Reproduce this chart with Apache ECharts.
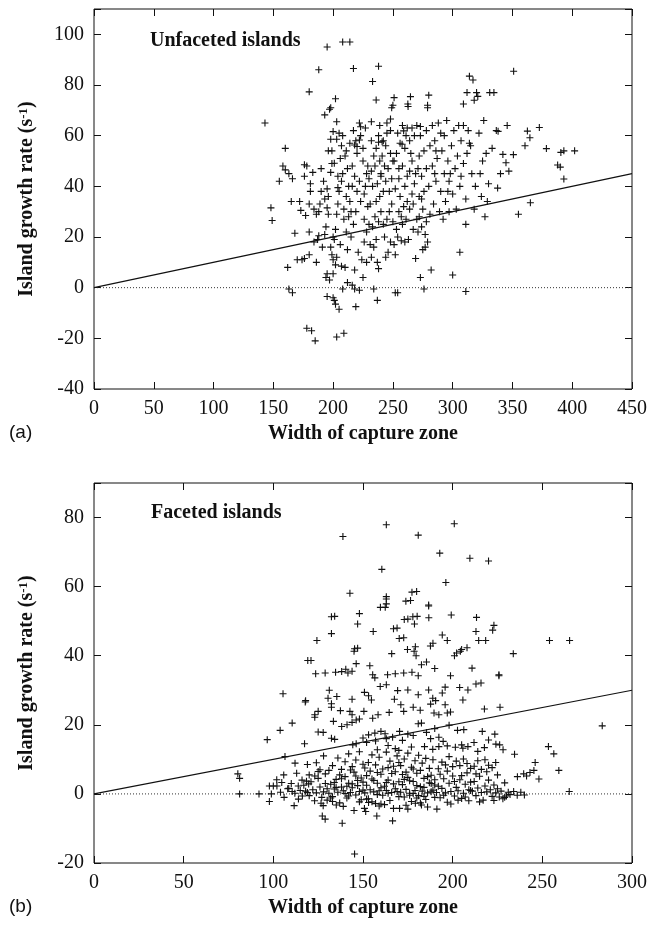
<!DOCTYPE html>
<html>
<head>
<meta charset="utf-8">
<script src="https://cdn.jsdelivr.net/npm/echarts@6/dist/echarts.min.js"></script>
<style>html,body{margin:0;padding:0;background:#fff;}#c{width:650px;height:928px;}</style>
</head>
<body>
<div id="c"></div>
<script>
// ---------- DATA ----------
const xTicksTop = [0, 50, 100, 150, 200, 250, 300, 350, 400, 450];
const yTicksTop = [-40, -20, 0, 20, 40, 60, 80, 100];
const xTicksBottom = [0, 50, 100, 150, 200, 250, 300];
const yTicksBottom = [-20, 0, 20, 40, 60, 80];

const panelLabels = ['(a)', '(b)'];
const panelTitles = ['Unfaceted islands', 'Faceted islands'];
const xAxisTitle = 'Width of capture zone';

const fitTop = [[0, 0], [450, 45]];
const zeroTop = [[0, 0], [450, 0]];
const fitBottom = [[0, 0], [300, 30]];
const zeroBottom = [[0, 0], [300, 0]];

const unfacetedPoints = [
[143,65],[148,31.5],[149,26.5],[155,42],[160,55],[160,46.5],[163,45],[166,43],[162,8],[163,-0.5],[166,-2],[168,21.5],[170,11],[165,34],[158,48],
[172,34],[173,30.5],[176,44],[177,28.5],[180,77.3],[178,-16],[181,41],[181,38],[180,33],[180,22],[182,-17],[184,31],[183,45.5],[185,-21],[188,86],[186,29],[187,19],[188,20.5],[189,33],[174,11],[176,11.5],[180,13],[184,18],[186,10],[178,48],[188,30],[190,47],[176,48.5],
[195,95],[193,68.2],[198,71],[197,70.4],[202,74.6],[203,65.5],[196,54],[199,54],[199,49],[198,45.5],[195,39],[196,36],[192,42],[190,38],[193,35],[195,31.5],[196,29],[193,21],[194,24],[191,16],[194,4],[195,5.5],[197,3],[195,-3.5],[200,-4],[201,-5],[202,-6.5],[205,-8.5],[203,-19.5],[200,5.5],[200,11],[199,13],[201,19],[202,23],[203,29],[204,33],[205,38],[204,44],[206,51],[207,56],[208,60],[205,61],[208,-0.5],[208,97],[200,20],[198,16],[203,12],[207,8.5],[209,-18],[210,8],[209,27],[208,45],[210,52],[200,61.6],[202,9],[206,17],[209,31],[204,39.5],[207,42],[201,49.1],[198,58.6],[203,58.6],
[214,97],[217,86.5],[212,2],[216,1],[218,7],[219,-7.5],[218,-0.5],[222,-1],[225,4],[212,15],[215,20],[217,25],[213,28],[219,30],[214,34],[220,38],[216,40],[222,42],[218,44],[212,47],[225,50],[220,53],[214,57],[223,60],[227,63],[221,14],[224,11],[226,18],[228,22],[211,36],[213,40],[226,27],[229,32],[223,34],[226,37],[228,45],[229,48],[225,55],[217,62],[219,58],[222,65],[228,10],[230,25],[211,22],[215,30],[227,40],[230,43],[216,48],[211,54],[223,63.5],[222,58.3],[218,56.3],[220,55.7],
[238,87.4],[233,81.4],[236,74.1],[234,-0.5],[237,-5],[238,7.5],[232,12],[234,16],[236,19],[233,24],[238,26],[235,28],[240,30],[231,33],[236,34],[239,36],[242,38],[233,40],[237,41],[244,42],[240,44],[232,46],[235,48],[239,50],[243,48],[246,47],[241,52],[236,55],[244,56],[232,58],[238,60],[245,61],[248,62],[249,71],[250,72],[251,75],[242,25],[245,27],[247,30],[249,33],[243,20],[246,14],[248,18],[244,12],[240,45],[234,52],[247,38],[249,43],[245,65],[232,65.5],[239,64],[242,58],[248,53],[250,50],[231,17],[237,10],[248,66.6],[241,57.6],[238,57.4],
[252,-2],[254,-2],[252,13],[251,17],[254,20],[257,18.5],[260,18],[253,23],[258,25],[261,27],[255,30],[264,31],[259,32],[262,34],[256,36],[266,37],[252,39],[260,40],[268,41],[255,43],[262,44],[264,46],[258,48],[251,50],[266,50],[253,53],[260,55],[256,57],[264,58],[268,60],[254,61],[262,63],[266,63],[258,64],[269,11.5],[267,23],[270,27],[263,19],[269,45],[257,28],[265,53],[250,26],[255,47],[261,60],[267,33],[270,64],[264.7,75.4],[262.5,72.5],[262.7,71.5],[259,61.9],[257.7,56.6],
[273,4],[276,-0.5],[282,7],[271,22],[274,24],[277,16],[279,18],[272,28],[275,31],[278,26],[281,29],[284,33],[272,36],[276,38],[280,40],[286,42],[274,44],[278,47],[283,48],[287,51],[272,52],[276,54],[281,56],[285,58],[273,60],[278,62],[283,64],[288,65],[279,71],[279,72],[280,76],[289,30],[290,38],[271,47],[285,45],[277,21],[275,15],[286,54],[290,61],[274,35],[273,63.6],
[300,5],[306,14],[311,-1.5],[292,27],[297,30],[303,31],[294,34],[300,37],[306,40],[297,42],[311,35],[293,45],[302,47],[309,49],[296,50],[304,52],[312,53],[299,56],[307,58],[315,56],[293,60],[301,62],[309,64],[295,66],[314,57],[316,45],[311,25],[318,31],[309,72.5],[314,83.5],[317,82],[312,77],[320,77],[318,74],[321,75.5],[305,64],[298,45],[291,54],[313,62],[307,44],[319,40],[296,38],
[327,28],[331,77],[334.5,77],[336.5,62],[338,61.7],[337.6,39.3],[342,52.6],[345.6,64],[344.6,49.3],[350.8,52.5],[351,85.4],[355,29],[325,50],[328,53],[323,45],[330,41],[333,55],[322,61],[326,66],[340,45],[347,46],[324,36],[329,34],
[362.5,61.8],[364.6,59.2],[360.5,56],[365,33.5],[372.5,63.2],[378.4,54.9],[387.8,48.4],[390,47.6],[390.5,53.4],[393,54],[393,42.9],[402,54]
];

const facetedPoints = [
[163,77.9],[200.9,78.2],[138.8,74.5],[180.8,74.9],[160.5,65],[192.8,69.7],[209.6,68.2],[220,67.4],[196.2,61.2],[142.7,58.1],[163,57.1],[163,56.4],[177.3,58.4],[173.9,55.8],[163,55],[159.7,54],[162.4,54],[186.6,54.7],[186.6,54.4],[132.4,51.3],[148,52.2],[177.8,51.3],[186.7,51],[199.2,51.8],[213.3,51.1],[173,50.5],[178.7,49.2],[147,49.2],[167,47.8],[223,48.8],[222.3,47.4],[132.4,46.4],[155.7,47],[194.2,46],[213,47],[197,44.4],[170.2,45],[124.3,44.4],[214.5,44.4],[218.4,44.4],[254,44.4],[265.2,44.4],[189,43.6],[187.6,42.8],[145.3,42],[174.8,41.8],[179.2,42.6],[205,41.8],[208,42.3],[134.2,51.4],[169,48],[172.7,45.2],[175,50.6],[180.2,51.4],[179.9,58.6],[176.5,56],[147,42.2],
[233.8,40.6],[166,40.6],[178.5,41.3],[179.6,40],[201,40],[202.2,40.8],[204.3,41.3],[145,41.3],[119.2,38.6],[146.2,37.7],[185.4,38.2],[182.6,37.4],[210.8,36.4],[140.4,36.1],[153.8,37.1],[123.6,34.8],[128.9,35],[134.7,35.2],[138.1,35.4],[141.6,35],[143.9,35.5],[155.4,34.5],[156.6,33.6],[163.7,34.5],[168,34.8],[172.7,35],[177.3,35.2],[180.8,34.2],[190,36.3],[198.8,34.2],[225.8,34.5],[225.8,34.2],[105.4,29],[131.2,30],[130.5,27.7],[135.4,28.2],[118,27],[117.8,26.6],[143.9,27.4],[150.8,29.4],[153.1,28.4],[154.7,27.2],[159.6,31.1],[163,31.6],[169.3,29.9],[167.5,27.4],[175,30.1],[180.8,28.7],[186.6,30.1],[188.9,27.7],[190.5,27],[195.8,30.9],[194.2,29.2],[203.9,30.8],[208.5,30.1],[215.8,32.1],[213,31.8],[205.7,27.2],[195.8,25.8],[198.8,23.7],[197,23.4],[123.1,22.9],[125,23.9],[123.1,22.2],[132.4,26.1],[137.4,24.1],[132.4,25.1],[133.5,21],[142.7,23.9],[143.9,22.9],[150.5,23.9],[155.4,21.9],[158.4,22.9],[164.6,23.6],[171.1,25.8],[172.7,23.9],[178,25.1],[181.9,24.2],[187.7,26],[189.6,23.4],[192.3,22.9],[217.7,24.6],[226.4,25.1],[121,38.6],
[96.6,15.7],[103.8,18.4],[110.5,20.5],[106.5,10.8],[117.4,14.5],[112.1,8.9],[125,17.9],[127.8,17.8],[132.4,16.1],[134.2,15.8],[138.1,19.5],[141.1,20],[143.9,20.7],[146.2,21.4],[148,21.7],[146.2,14.5],[144.3,14.2],[153.1,17.1],[156.6,17.6],[160,18.1],[162.3,17.4],[166.5,16.4],[170.4,18.1],[175,17.3],[180.8,20.3],[182.6,20.5],[185.4,17.8],[187.7,16],[192.3,16.4],[194.7,15.2],[202.7,18.4],[206.2,18.6],[216.5,18.1],[223.5,17.3],[184.3,13.7],[188.9,12.9],[192.3,13.7],[197,13.9],[201.5,13.5],[205,14.2],[205.7,13.2],[208.5,13.7],[211.9,14.9],[217.7,13.4],[224.1,14.4],[226.2,14.2],[228.1,12.8],[234.5,11.5],[253.4,13.7],[256.4,11.6],[259.2,6.8],[246,9.1],[245.3,6.8],[248.1,4.3],[283.4,19.7],[265,0.7],[236.1,5],[239.6,5.8],[241.2,5.2],[243.1,6.2],[152,14.9],[158,12.8],[164,14],[168,13.1],[172,15.5],[177,13.6],[150,16.2],[157,15.3],[163,16],[170,12.6],[178,16.9],[190,18.9],[198,19.9],[214,12.3],[220,15.6],[231,0.5],[229,-1],
[80.2,5.8],[81.2,4.5],[81.2,0],[92,0],[97.8,2.3],[100,2.3],[98.9,0],[97.8,-2.2],[101.9,4.1],[105.8,5.5],[104.7,3.3],[108.6,1.6],[110.5,0.7],[111.6,-3.4],[116.2,-0.6],[119,0.4],[113.9,2.3],[118.5,3.7],[119.7,2.9],[123.1,5.2],[125,6.5],[126.6,-2.7],[127.8,-3.4],[127.3,-6.4],[128.9,-7.3],[138.4,-8.5],[145.3,-17.4],[166.5,-7.8],[157.7,-6.4],[151.5,-5.1],[150.8,-4.2],[170.4,-4.2],[175,-4.4],[191.2,-4.4],[182.6,-3.2],[179.2,-2.7],[153.1,-2.5],[160,-2.9],[135.1,-3.2],[133,-2.2],
[102,2.3],[104,0.5],[106,-1],[108,1.5],[110,3],[112,0.2],[114,-1.5],[115,1],[117,2.5],[118,0.8],[120,-0.5],[121,3.5],[122,1.2],[123,-2],[124,0.3],[125,4.5],[126,2],[127,-1],[128,0.6],[129,3],[130,1.5],[120,5.5],[116,4],[126,7],[129,5.8],[124,9],[113,6],[119,8.5],[128,11],[130,-1.8],
[131,0.2],[132,2.8],[133,-0.8],[134,1.4],[135,4.2],[136,0.5],[137,-2.6],[138,2],[139,0.9],[140,5],[141,-1.2],[142,3.1],[143,0.4],[144,1.8],[145,6.3],[146,-0.3],[147,2.4],[148,0.7],[149,4.6],[150,1.1],[131,6.8],[133,8.2],[136,10.4],[138,7.1],[140,9.3],[142,11.6],[144,7.9],[146,9.8],[148,12.2],[150,8.6],[134,3.3],[137,5.5],[139,-3.6],[141,2.2],[143,6.9],[145,-4.8],[147,3.9],[149,-1.7],[132,-1.2],[135,1.9],[138,4.4],[140,0.1],[142,-0.6],[144,2.9],[146,5.2],[148,-2.3],[150,3.4],
[151,0.3],[152,2.5],[153,-1.4],[154,1.2],[155,4.3],[156,0.6],[157,-2.8],[158,3.1],[159,0.9],[160,5.7],[161,-0.4],[162,2.2],[163,1],[164,4],[165,-1.9],[166,0.4],[167,2.9],[168,6.4],[169,0.7],[170,3.5],[151,7.5],[153,9.1],[155,11.3],[157,8.4],[159,10.6],[161,7.2],[163,12.1],[165,9.5],[167,8],[169,11],[152,5.3],[154,6.6],[156,3.9],[158,-0.2],[160,1.8],[162,-3.1],[164,0.2],[166,5.9],[168,1.5],[170,-0.8],[155,-2.3],[159,-3.5],[163,3.3],[167,-4.2],[152,-1.5],[158,6.2],[164,7.6],[170,9.1],
[171,0.5],[172,2.7],[173,-0.9],[174,1.3],[175,4.8],[176,0.2],[177,-2.2],[178,3.6],[179,1],[180,6],[181,-0.5],[182,2.1],[183,0.8],[184,4.5],[185,-1.6],[186,0.3],[187,3.2],[188,5.4],[189,1.1],[190,2.6],[171,8.2],[173,10.1],[175,11.8],[177,7.7],[179,9.6],[181,11.2],[183,8.9],[185,10.3],[187,7.4],[189,9.9],[172,5.6],[174,-3.3],[176,3.8],[178,0.1],[180,-1.2],[182,6.8],[184,1.9],[186,-3.8],[188,0.6],[190,4.1],[174,6.3],[178,7.2],[182,-2.6],[186,5],[190,-1],[176,-0.4],[180,2.4],[184,-0.7],[188,3],[173,4.2],
[191,0.4],[192,2.2],[193,-1.1],[194,1.6],[195,4.4],[196,0.3],[197,-2.4],[198,3.1],[199,0.7],[200,5.2],[201,-0.6],[202,1.9],[203,0.9],[204,4.1],[205,-1.3],[206,0.2],[207,2.8],[208,6.1],[209,1.2],[210,3.4],[192,7.3],[194,9.2],[196,8.4],[198,10.8],[200,7.9],[202,9.5],[204,8.2],[206,10.1],[208,8.8],[210,7.4],[193,5.7],[197,6.6],[201,3.6],[205,5.3],[209,-2],[199,-2.9],[203,-1.8],[195,-0.4],[207,-0.9],[210,1],
[211,0.8],[212,3.6],[213,-0.5],[214,1.7],[215,5.1],[216,0.4],[217,-1.8],[218,2.3],[219,0.6],[220,4],[221,1.2],[222,-0.7],[223,2.6],[224,0.3],[225,1.5],[226,-0.9],[227,0.8],[228,-1.4],[229,3.2],[230,-0.6],[232,-0.2],[234,0.7],[236,-0.4],[238,0.5],[240,-0.3],[212,8],[214,9.6],[216,7.1],[218,9.9],[220,8.3],[222,7.6],[224,9.1],[213,5.8],[219,6.4],[225,5.5],[215,-2.3],[223,-1.9]
];

// ---------- CHART ----------
const SERIF = '"Liberation Serif", "Times New Roman", serif';
const SANS = '"Liberation Sans", Arial, sans-serif';
const INK = '#111';
const plusSymbol = 'path://M5,0 L5,10 M0,5 L10,5';

function labelFmt(step) { return v => (v % step === 0 ? String(v) : ''); }

const tickStyle = { show: true, inside: true, length: 7, lineStyle: { color: INK, width: 1 } };

function mainX(grid, ticks, withName) {
  return {
    gridIndex: grid, type: 'value', position: 'bottom',
    min: ticks[0], max: ticks[ticks.length - 1], interval: ticks[1] - ticks[0],
    axisLine: { show: false, onZero: false },
    axisTick: tickStyle,
    axisLabel: { show: true, margin: 10, color: INK, fontFamily: SERIF, fontSize: 20 },
    splitLine: { show: false },
    name: withName, nameLocation: 'middle', nameGap: 35,
    nameTextStyle: { fontFamily: SERIF, fontWeight: 'bold', fontSize: 20, color: INK }
  };
}
function mirrorX(grid, ticks) {
  return {
    gridIndex: grid, type: 'value', position: 'top',
    min: ticks[0], max: ticks[ticks.length - 1], interval: ticks[1] - ticks[0],
    axisLine: { show: false, onZero: false },
    axisTick: tickStyle,
    axisLabel: { show: false }, splitLine: { show: false }
  };
}
function mainY(grid, ticks, max) {
  return {
    gridIndex: grid, type: 'value', position: 'left',
    min: ticks[0], max: max, interval: ticks[1] - ticks[0],
    axisLine: { show: false, onZero: false },
    axisTick: tickStyle,
    axisLabel: { show: true, margin: 10, color: INK, fontFamily: SERIF, fontSize: 20, formatter: labelFmt(ticks[1] - ticks[0]) },
    splitLine: { show: false },
    name: 'Island growth rate (s{sup|-1})', nameLocation: 'middle', nameGap: 57, nameRotate: 90,
    nameTextStyle: {
      fontFamily: SERIF, fontWeight: 'bold', fontSize: 20, color: INK,
      rich: { sup: { fontFamily: SERIF, fontWeight: 'bold', fontSize: 13, color: INK, verticalAlign: 'top', padding: [0, 0, 6, 0] } }
    }
  };
}
function mirrorY(grid, ticks, max) {
  return {
    gridIndex: grid, type: 'value', position: 'right',
    min: ticks[0], max: max, interval: ticks[1] - ticks[0],
    axisLine: { show: false, onZero: false },
    axisTick: tickStyle,
    axisLabel: { show: false }, splitLine: { show: false }
  };
}

function scatter(xi, yi, data) {
  return {
    type: 'scatter', xAxisIndex: xi, yAxisIndex: yi, data: data,
    symbol: plusSymbol, symbolSize: 7,
    itemStyle: { color: 'rgba(0,0,0,0)', borderColor: '#111', borderWidth: 1.1, opacity: 1 },
    z: 3, silent: true
  };
}
function line(xi, yi, data, dotted) {
  return {
    type: 'line', xAxisIndex: xi, yAxisIndex: yi, data: data,
    showSymbol: false, symbol: 'none', silent: true, z: 2,
    lineStyle: dotted ? { color: '#333', width: 1, type: [1, 2] } : { color: INK, width: 1.2 }
  };
}

const chart = echarts.init(document.getElementById('c'), null, { renderer: 'canvas' });
chart.setOption({
  animation: false,
  backgroundColor: '#fff',
  grid: [
    { left: 94, top: 9, right: 17, height: 380, show: true, borderColor: INK, borderWidth: 1, backgroundColor: 'transparent' },
    { left: 94, top: 483, right: 17, height: 380, show: true, borderColor: INK, borderWidth: 1, backgroundColor: 'transparent' }
  ],
  xAxis: [mainX(0, xTicksTop, xAxisTitle), mirrorX(0, xTicksTop), mainX(1, xTicksBottom, xAxisTitle), mirrorX(1, xTicksBottom)],
  yAxis: [mainY(0, yTicksTop, 110), mirrorY(0, yTicksTop, 110), mainY(1, yTicksBottom, 90), mirrorY(1, yTicksBottom, 90)],
  series: [
    line(0, 0, zeroTop, true),
    line(0, 0, fitTop, false),
    scatter(0, 0, unfacetedPoints),
    line(2, 2, zeroBottom, true),
    line(2, 2, fitBottom, false),
    scatter(2, 2, facetedPoints)
  ],
  graphic: [
    { type: 'text', x: 150, y: 41, style: { text: panelTitles[0], fontFamily: SERIF, fontWeight: 'bold', fontSize: 20, fill: INK, verticalAlign: 'middle' } },
    { type: 'text', x: 151, y: 513, style: { text: panelTitles[1], fontFamily: SERIF, fontWeight: 'bold', fontSize: 20, fill: INK, verticalAlign: 'middle' } },
    { type: 'text', x: 9, y: 433, style: { text: panelLabels[0], fontFamily: SANS, fontSize: 19, fill: INK, verticalAlign: 'middle' } },
    { type: 'text', x: 9, y: 907, style: { text: panelLabels[1], fontFamily: SANS, fontSize: 19, fill: INK, verticalAlign: 'middle' } }
  ]
});
</script>
</body>
</html>
